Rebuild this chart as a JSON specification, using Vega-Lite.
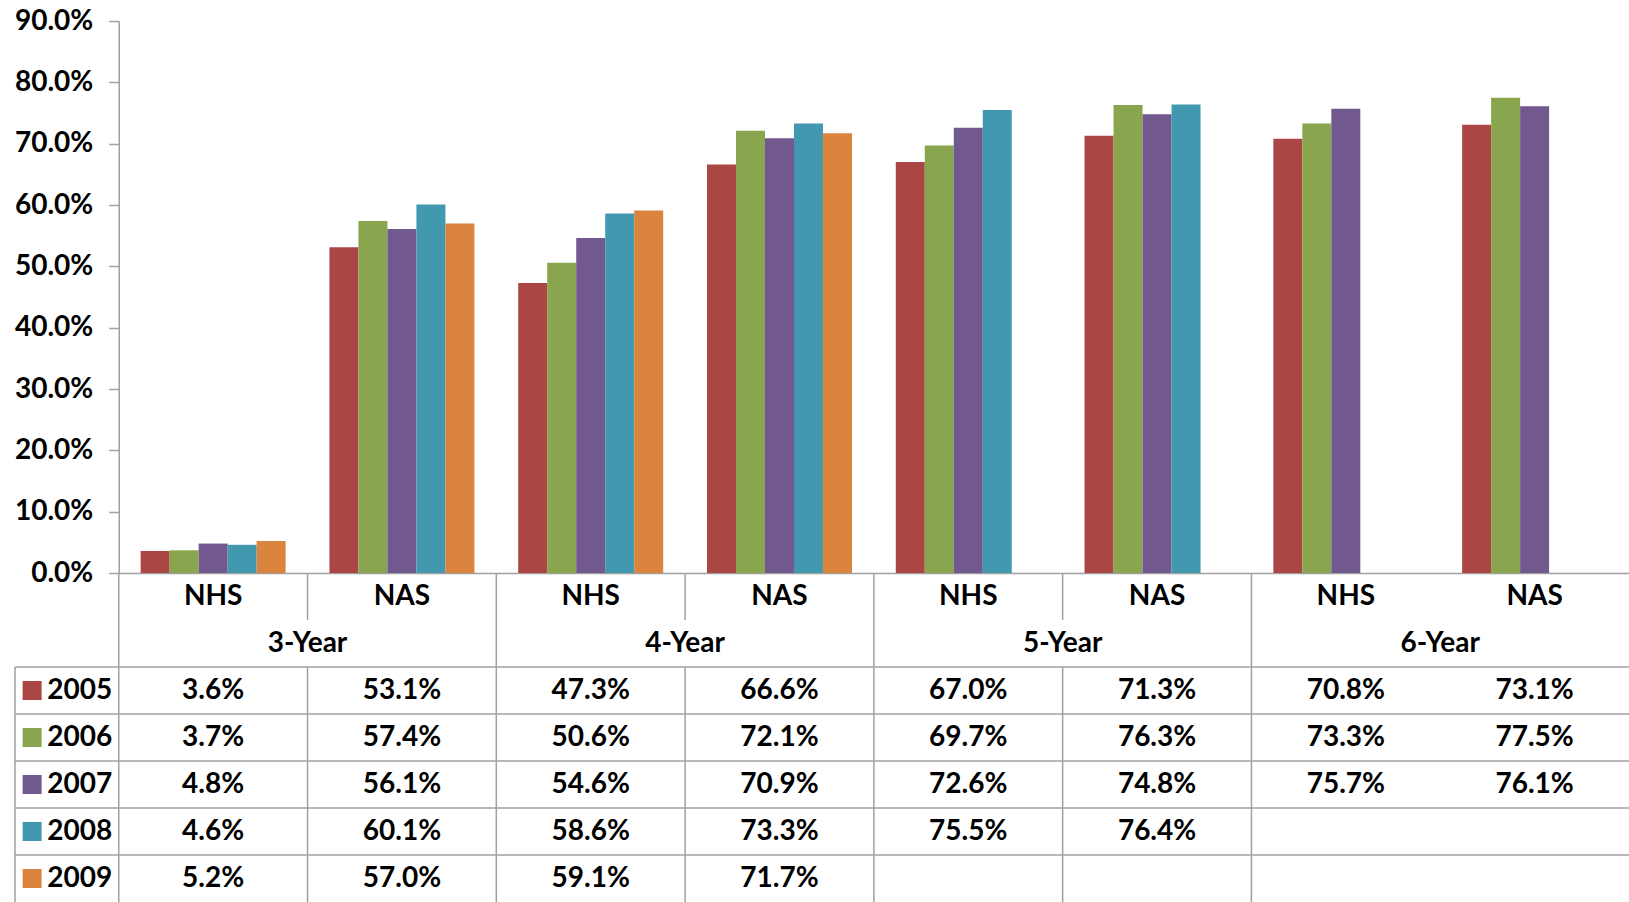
{
  "$schema": "https://vega.github.io/schema/vega-lite/v6.json",
  "width": 1614,
  "height": 552,
  "autosize": {"type": "none"},
  "padding": {"left": 15, "top": 21, "right": 0, "bottom": 329},
  "background": "white",
  "config": {
    "view": {"stroke": null},
    "text": {"font": "Lato", "fontWeight": "bold", "fontSize": 28, "color": "#000000"}
  },
  "datasets": {
    "rates": [
      {"grp": "3-Year", "inst": "NHS", "col": "3-Year NHS", "year": "2005", "value": 0.036},
      {"grp": "3-Year", "inst": "NHS", "col": "3-Year NHS", "year": "2006", "value": 0.037},
      {"grp": "3-Year", "inst": "NHS", "col": "3-Year NHS", "year": "2007", "value": 0.048},
      {"grp": "3-Year", "inst": "NHS", "col": "3-Year NHS", "year": "2008", "value": 0.046},
      {"grp": "3-Year", "inst": "NHS", "col": "3-Year NHS", "year": "2009", "value": 0.052},
      {"grp": "3-Year", "inst": "NAS", "col": "3-Year NAS", "year": "2005", "value": 0.531},
      {"grp": "3-Year", "inst": "NAS", "col": "3-Year NAS", "year": "2006", "value": 0.574},
      {"grp": "3-Year", "inst": "NAS", "col": "3-Year NAS", "year": "2007", "value": 0.561},
      {"grp": "3-Year", "inst": "NAS", "col": "3-Year NAS", "year": "2008", "value": 0.601},
      {"grp": "3-Year", "inst": "NAS", "col": "3-Year NAS", "year": "2009", "value": 0.570},
      {"grp": "4-Year", "inst": "NHS", "col": "4-Year NHS", "year": "2005", "value": 0.473},
      {"grp": "4-Year", "inst": "NHS", "col": "4-Year NHS", "year": "2006", "value": 0.506},
      {"grp": "4-Year", "inst": "NHS", "col": "4-Year NHS", "year": "2007", "value": 0.546},
      {"grp": "4-Year", "inst": "NHS", "col": "4-Year NHS", "year": "2008", "value": 0.586},
      {"grp": "4-Year", "inst": "NHS", "col": "4-Year NHS", "year": "2009", "value": 0.591},
      {"grp": "4-Year", "inst": "NAS", "col": "4-Year NAS", "year": "2005", "value": 0.666},
      {"grp": "4-Year", "inst": "NAS", "col": "4-Year NAS", "year": "2006", "value": 0.721},
      {"grp": "4-Year", "inst": "NAS", "col": "4-Year NAS", "year": "2007", "value": 0.709},
      {"grp": "4-Year", "inst": "NAS", "col": "4-Year NAS", "year": "2008", "value": 0.733},
      {"grp": "4-Year", "inst": "NAS", "col": "4-Year NAS", "year": "2009", "value": 0.717},
      {"grp": "5-Year", "inst": "NHS", "col": "5-Year NHS", "year": "2005", "value": 0.670},
      {"grp": "5-Year", "inst": "NHS", "col": "5-Year NHS", "year": "2006", "value": 0.697},
      {"grp": "5-Year", "inst": "NHS", "col": "5-Year NHS", "year": "2007", "value": 0.726},
      {"grp": "5-Year", "inst": "NHS", "col": "5-Year NHS", "year": "2008", "value": 0.755},
      {"grp": "5-Year", "inst": "NAS", "col": "5-Year NAS", "year": "2005", "value": 0.713},
      {"grp": "5-Year", "inst": "NAS", "col": "5-Year NAS", "year": "2006", "value": 0.763},
      {"grp": "5-Year", "inst": "NAS", "col": "5-Year NAS", "year": "2007", "value": 0.748},
      {"grp": "5-Year", "inst": "NAS", "col": "5-Year NAS", "year": "2008", "value": 0.764},
      {"grp": "6-Year", "inst": "NHS", "col": "6-Year NHS", "year": "2005", "value": 0.708},
      {"grp": "6-Year", "inst": "NHS", "col": "6-Year NHS", "year": "2006", "value": 0.733},
      {"grp": "6-Year", "inst": "NHS", "col": "6-Year NHS", "year": "2007", "value": 0.757},
      {"grp": "6-Year", "inst": "NAS", "col": "6-Year NAS", "year": "2005", "value": 0.731},
      {"grp": "6-Year", "inst": "NAS", "col": "6-Year NAS", "year": "2006", "value": 0.775},
      {"grp": "6-Year", "inst": "NAS", "col": "6-Year NAS", "year": "2007", "value": 0.761}
    ],
    "cols": [
      {"col": "3-Year NHS", "inst": "NHS"},
      {"col": "3-Year NAS", "inst": "NAS"},
      {"col": "4-Year NHS", "inst": "NHS"},
      {"col": "4-Year NAS", "inst": "NAS"},
      {"col": "5-Year NHS", "inst": "NHS"},
      {"col": "5-Year NAS", "inst": "NAS"},
      {"col": "6-Year NHS", "inst": "NHS"},
      {"col": "6-Year NAS", "inst": "NAS"}
    ],
    "groups": [
      {"grp": "3-Year"}, {"grp": "4-Year"}, {"grp": "5-Year"}, {"grp": "6-Year"}
    ],
    "years": [
      {"year": "2005"}, {"year": "2006"}, {"year": "2007"}, {"year": "2008"}, {"year": "2009"}
    ],
    "vlines": [
      {"col": "3-Year NHS", "y0": "b0", "y1": "b7"},
      {"col": "3-Year NAS", "y0": "b0", "y1": "b1"},
      {"col": "3-Year NAS", "y0": "b2", "y1": "b7"},
      {"col": "4-Year NHS", "y0": "b0", "y1": "b7"},
      {"col": "4-Year NAS", "y0": "b0", "y1": "b1"},
      {"col": "4-Year NAS", "y0": "b2", "y1": "b7"},
      {"col": "5-Year NHS", "y0": "b0", "y1": "b7"},
      {"col": "5-Year NAS", "y0": "b0", "y1": "b1"},
      {"col": "5-Year NAS", "y0": "b2", "y1": "b7"},
      {"col": "6-Year NHS", "y0": "b0", "y1": "b7"}
    ],
    "hlines": [
      {"b": "b2"}, {"b": "b3"}, {"b": "b4"}, {"b": "b5"}, {"b": "b6"}
    ],
    "lborder": [
      {"c": "legend", "y0": "b2", "y1": "b7"}
    ]
  },
  "layer": [
    {
      "data": {"name": "rates"},
      "mark": {"type": "bar"},
      "encoding": {
        "x": {
          "field": "col", "type": "nominal",
          "scale": {
            "domain": ["3-Year NHS", "3-Year NAS", "4-Year NHS", "4-Year NAS", "5-Year NHS", "5-Year NAS", "6-Year NHS", "6-Year NAS"],
            "range": [103.75, 1614], "paddingInner": 0.232, "paddingOuter": 0.116
          },
          "axis": {"labels": false, "ticks": false, "title": null, "domainColor": "#a0a0a0", "domainWidth": 1.5}
        },
        "xOffset": {"field": "year", "type": "nominal", "scale": {"domain": ["2005", "2006", "2007", "2008", "2009"]}},
        "y": {
          "field": "value", "type": "quantitative",
          "scale": {"domain": [0, 0.9], "nice": false},
          "axis": {
            "title": null, "format": ".1%", "values": [0, 0.1, 0.2, 0.3, 0.4, 0.5, 0.6, 0.7, 0.8, 0.9],
            "grid": false, "offset": -103.75, "domainColor": "#a0a0a0", "domainWidth": 1.5,
            "tickColor": "#a0a0a0", "tickWidth": 1.5, "tickSize": 10,
            "labelFont": "Lato", "labelFontWeight": "bold", "labelFontSize": 28, "labelColor": "#000000", "labelPadding": 16
          }
        },
        "color": {
          "field": "year", "type": "nominal",
          "scale": {"domain": ["2005", "2006", "2007", "2008", "2009"], "range": ["#AA4643", "#89A54E", "#71588F", "#4198AF", "#DB843D"]},
          "legend": null
        }
      }
    },
    {
      "data": {"name": "rates"},
      "mark": {"type": "text", "align": "center", "baseline": "middle"},
      "encoding": {
        "x": {
          "field": "col", "type": "nominal",
          "scale": {"type": "band", "domain": ["3-Year NHS", "3-Year NAS", "4-Year NHS", "4-Year NAS", "5-Year NHS", "5-Year NAS", "6-Year NHS", "6-Year NAS"], "range": [103.75, 1614], "paddingInner": 0, "paddingOuter": 0},
          "axis": null
        },
        "y": {
          "field": "year", "type": "nominal",
          "scale": {"type": "band", "domain": ["inst", "grp", "2005", "2006", "2007", "2008", "2009"], "range": [552, 881], "paddingInner": 0, "paddingOuter": 0},
          "axis": null
        },
        "text": {"field": "value", "type": "quantitative", "format": ".1%"}
      }
    },
    {
      "data": {"name": "cols"},
      "mark": {"type": "text", "align": "center", "baseline": "middle"},
      "encoding": {
        "x": {
          "field": "col", "type": "nominal",
          "scale": {"type": "band", "domain": ["3-Year NHS", "3-Year NAS", "4-Year NHS", "4-Year NAS", "5-Year NHS", "5-Year NAS", "6-Year NHS", "6-Year NAS"], "range": [103.75, 1614], "paddingInner": 0, "paddingOuter": 0},
          "axis": null
        },
        "y": {
          "datum": "inst", "type": "nominal",
          "scale": {"type": "band", "domain": ["inst", "grp", "2005", "2006", "2007", "2008", "2009"], "range": [552, 881], "paddingInner": 0, "paddingOuter": 0},
          "axis": null
        },
        "text": {"field": "inst", "type": "nominal"}
      }
    },
    {
      "data": {"name": "groups"},
      "mark": {"type": "text", "align": "center", "baseline": "middle"},
      "encoding": {
        "x": {
          "field": "grp", "type": "nominal",
          "scale": {"type": "band", "domain": ["3-Year", "4-Year", "5-Year", "6-Year"], "range": [103.75, 1614], "paddingInner": 0, "paddingOuter": 0},
          "axis": null
        },
        "y": {
          "datum": "grp", "type": "nominal",
          "scale": {"type": "band", "domain": ["inst", "grp", "2005", "2006", "2007", "2008", "2009"], "range": [552, 881], "paddingInner": 0, "paddingOuter": 0},
          "axis": null
        },
        "text": {"field": "grp", "type": "nominal"}
      }
    },
    {
      "data": {"name": "vlines"},
      "mark": {"type": "rule", "color": "#a0a0a0", "strokeWidth": 1.5},
      "encoding": {
        "x": {
          "field": "col", "type": "nominal", "bandPosition": 0,
          "scale": {"type": "band", "domain": ["3-Year NHS", "3-Year NAS", "4-Year NHS", "4-Year NAS", "5-Year NHS", "5-Year NAS", "6-Year NHS", "6-Year NAS"], "range": [103.75, 1614], "paddingInner": 0, "paddingOuter": 0},
          "axis": null
        },
        "y": {
          "field": "y0", "type": "ordinal",
          "scale": {"type": "point", "domain": ["b0", "b1", "b2", "b3", "b4", "b5", "b6", "b7"], "range": [552, 881], "padding": 0},
          "axis": null
        },
        "y2": {"field": "y1"}
      }
    },
    {
      "data": {"name": "hlines"},
      "mark": {"type": "rule", "color": "#a0a0a0", "strokeWidth": 1.5},
      "encoding": {
        "y": {
          "field": "b", "type": "ordinal",
          "scale": {"type": "point", "domain": ["b0", "b1", "b2", "b3", "b4", "b5", "b6", "b7"], "range": [552, 881], "padding": 0},
          "axis": null
        }
      }
    },
    {
      "data": {"name": "lborder"},
      "mark": {"type": "rule", "color": "#a0a0a0", "strokeWidth": 1.5},
      "encoding": {
        "x": {
          "field": "c", "type": "nominal", "bandPosition": 0,
          "scale": {"type": "band", "domain": ["legend"], "range": [0, 103.75], "paddingInner": 0, "paddingOuter": 0},
          "axis": null
        },
        "y": {
          "field": "y0", "type": "ordinal",
          "scale": {"type": "point", "domain": ["b0", "b1", "b2", "b3", "b4", "b5", "b6", "b7"], "range": [552, 881], "padding": 0},
          "axis": null
        },
        "y2": {"field": "y1"}
      }
    },
    {
      "data": {"name": "years"},
      "mark": {"type": "square", "filled": true, "size": 361, "opacity": 1},
      "encoding": {
        "x": {
          "datum": "legend", "type": "nominal", "bandPosition": 0.165,
          "scale": {"type": "band", "domain": ["legend"], "range": [0, 103.75], "paddingInner": 0, "paddingOuter": 0},
          "axis": null
        },
        "y": {
          "field": "year", "type": "nominal",
          "scale": {"type": "band", "domain": ["inst", "grp", "2005", "2006", "2007", "2008", "2009"], "range": [552, 881], "paddingInner": 0, "paddingOuter": 0},
          "axis": null
        },
        "color": {
          "field": "year", "type": "nominal",
          "scale": {"domain": ["2005", "2006", "2007", "2008", "2009"], "range": ["#AA4643", "#89A54E", "#71588F", "#4198AF", "#DB843D"]},
          "legend": null
        }
      }
    },
    {
      "data": {"name": "years"},
      "mark": {"type": "text", "align": "center", "baseline": "middle"},
      "encoding": {
        "x": {
          "datum": "legend", "type": "nominal", "bandPosition": 0.625,
          "scale": {"type": "band", "domain": ["legend"], "range": [0, 103.75], "paddingInner": 0, "paddingOuter": 0},
          "axis": null
        },
        "y": {
          "field": "year", "type": "nominal",
          "scale": {"type": "band", "domain": ["inst", "grp", "2005", "2006", "2007", "2008", "2009"], "range": [552, 881], "paddingInner": 0, "paddingOuter": 0},
          "axis": null
        },
        "text": {"field": "year", "type": "nominal"}
      }
    }
  ],
  "resolve": {"scale": {"x": "independent", "y": "independent"}}
}
